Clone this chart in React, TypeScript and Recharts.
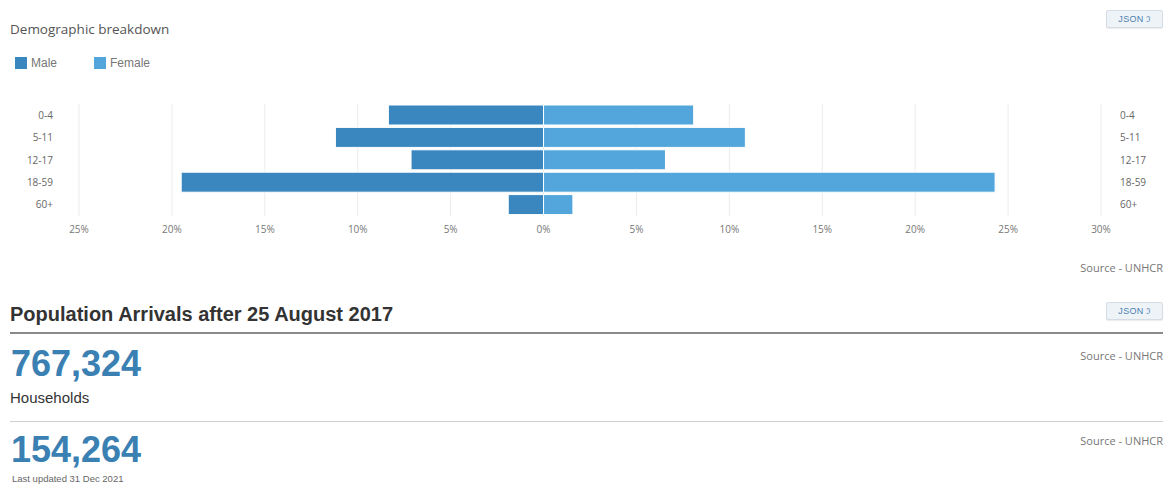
import React from 'react';
import {
  BarChart,
  Bar,
  XAxis,
  YAxis,
  CartesianGrid,
} from 'recharts';

// age groups, top to bottom
const ageGroups = ['0-4', '5-11', '12-17', '18-59', '60+'];
// share of population, percent
const maleShare = [8.35, 11.2, 7.13, 19.5, 1.9];
const femaleShare = [8.08, 10.86, 6.56, 24.3, 1.58];
const xTicks = [-25, -20, -15, -10, -5, 0, 5, 10, 15, 20, 25, 30];

const arrivalsTotal = '767,324';
const householdsTotal = '154,264';

const MALE = '#3a87c0';
const FEMALE = '#52a6db';
const FONT = '"Liberation Sans", Arial, sans-serif';
const LIGHT_FONT = '"Open Sans", "Liberation Sans", sans-serif';

// males plotted to the left of zero
const pyramid = ageGroups.map((age, i) => ({
  age,
  male: -maleShare[i],
  female: femaleShare[i],
}));

const JsonButton = ({ top }: { top: number }) => (
  <div
    style={{
      position: 'absolute',
      top,
      left: 1106,
      width: 55,
      height: 16,
      background: '#eef3f8',
      border: '1px solid #d5dce4',
      borderRadius: 2,
      boxShadow: '0 1px 1px rgba(0,0,0,0.08)',
      fontFamily: FONT,
      fontSize: 9,
      lineHeight: '16px',
      color: '#4a7fb0',
      textAlign: 'center',
      letterSpacing: 0.3,
    }}
  >
    JSON <span style={{ fontSize: 8 }}>ℑ</span>
  </div>
);

const Source = ({ top }: { top: number }) => (
  <div
    style={{
      position: 'absolute',
      top,
      right: 5,
      fontFamily: LIGHT_FONT,
      fontSize: 11,
      color: '#777',
    }}
  >
    Source - UNHCR
  </div>
);

const LegendItem = ({ color, label, left }: { color: string; label: string; left: number }) => (
  <div
    style={{
      position: 'absolute',
      top: 56,
      left,
      display: 'flex',
      alignItems: 'center',
      fontFamily: FONT,
      fontSize: 12,
      color: '#777',
    }}
  >
    <span
      style={{
        display: 'inline-block',
        width: 12,
        height: 12,
        background: color,
        marginRight: 4,
      }}
    />
    {label}
  </div>
);

export default function App() {
  return (
    <div
      style={{
        position: 'absolute',
        left: 0,
        top: 0,
        width: 1168,
        height: 491,
        background: '#fff',
        overflow: 'hidden',
      }}
    >
      <div
        style={{
          position: 'absolute',
          top: 20,
          left: 10,
          fontFamily: LIGHT_FONT,
          fontSize: 13.5,
          color: '#555',
        }}
      >
        Demographic breakdown
      </div>
      <JsonButton top={10} />
      <LegendItem color={MALE} label="Male" left={15} />
      <LegendItem color={FEMALE} label="Female" left={94} />

      <div style={{ position: 'absolute', top: 0, left: 0 }}>
        <BarChart
          width={1168}
          height={260}
          data={pyramid}
          layout="vertical"
          stackOffset="sign"
          barCategoryGap={1}
          margin={{ top: 104, right: 0, bottom: 14, left: 0 }}
        >
          <CartesianGrid horizontal={false} stroke="#ececec" />
          <XAxis
            type="number"
            domain={[-25, 30]}
            ticks={xTicks}
            interval={0}
            height={30}
            axisLine={false}
            tickLine={false}
            tickSize={0}
            tickMargin={10}
            tick={{ fontSize: 10, fill: '#777', fontFamily: LIGHT_FONT }}
            tickFormatter={(v: number) => `${Math.abs(v)}%`}
          />
          <YAxis
            type="category"
            dataKey="age"
            yAxisId="left"
            width={79}
            axisLine={false}
            tickLine={false}
            tickSize={0}
            tickMargin={26}
            tick={{ fontSize: 10, fill: '#666', fontFamily: LIGHT_FONT }}
          />
          <YAxis
            type="category"
            dataKey="age"
            yAxisId="right"
            orientation="right"
            width={67}
            axisLine={false}
            tickLine={false}
            tickSize={0}
            tickMargin={19}
            tick={{ fontSize: 10, fill: '#666', fontFamily: LIGHT_FONT, textAnchor: 'start' }}
          />
          <Bar
            dataKey="male"
            yAxisId="left"
            stackId="pop"
            fill={MALE}
            stroke="#fff"
            strokeWidth={1}
            isAnimationActive={false}
          />
          <Bar
            dataKey="female"
            yAxisId="left"
            stackId="pop"
            fill={FEMALE}
            stroke="#fff"
            strokeWidth={1}
            isAnimationActive={false}
          />
        </BarChart>
      </div>

      <Source top={260} />

      <div
        style={{
          position: 'absolute',
          top: 303,
          left: 10,
          fontFamily: FONT,
          fontSize: 20,
          fontWeight: 'bold',
          color: '#333',
        }}
      >
        Population Arrivals after 25 August 2017
      </div>
      <JsonButton top={302} />
      <div
        style={{
          position: 'absolute',
          top: 332,
          left: 10,
          width: 1153,
          height: 2,
          background: '#8a8a8a',
        }}
      />
      <div
        style={{
          position: 'absolute',
          top: 343,
          left: 11,
          fontFamily: FONT,
          fontSize: 36,
          fontWeight: 'bold',
          color: '#3a80b2',
          lineHeight: '42px',
        }}
      >
        {arrivalsTotal}
      </div>
      <Source top={348} />

      <div
        style={{
          position: 'absolute',
          top: 389,
          left: 10,
          fontFamily: FONT,
          fontSize: 15,
          color: '#333',
        }}
      >
        Households
      </div>
      <div
        style={{
          position: 'absolute',
          top: 421,
          left: 10,
          width: 1153,
          height: 1,
          background: '#cfcfcf',
        }}
      />
      <div
        style={{
          position: 'absolute',
          top: 429,
          left: 11,
          fontFamily: FONT,
          fontSize: 36,
          fontWeight: 'bold',
          color: '#3a80b2',
          lineHeight: '42px',
        }}
      >
        {householdsTotal}
      </div>
      <Source top={433} />
      <div
        style={{
          position: 'absolute',
          top: 473,
          left: 12,
          fontFamily: FONT,
          fontSize: 9.5,
          color: '#666',
        }}
      >
        Last updated 31 Dec 2021
      </div>
    </div>
  );
}
